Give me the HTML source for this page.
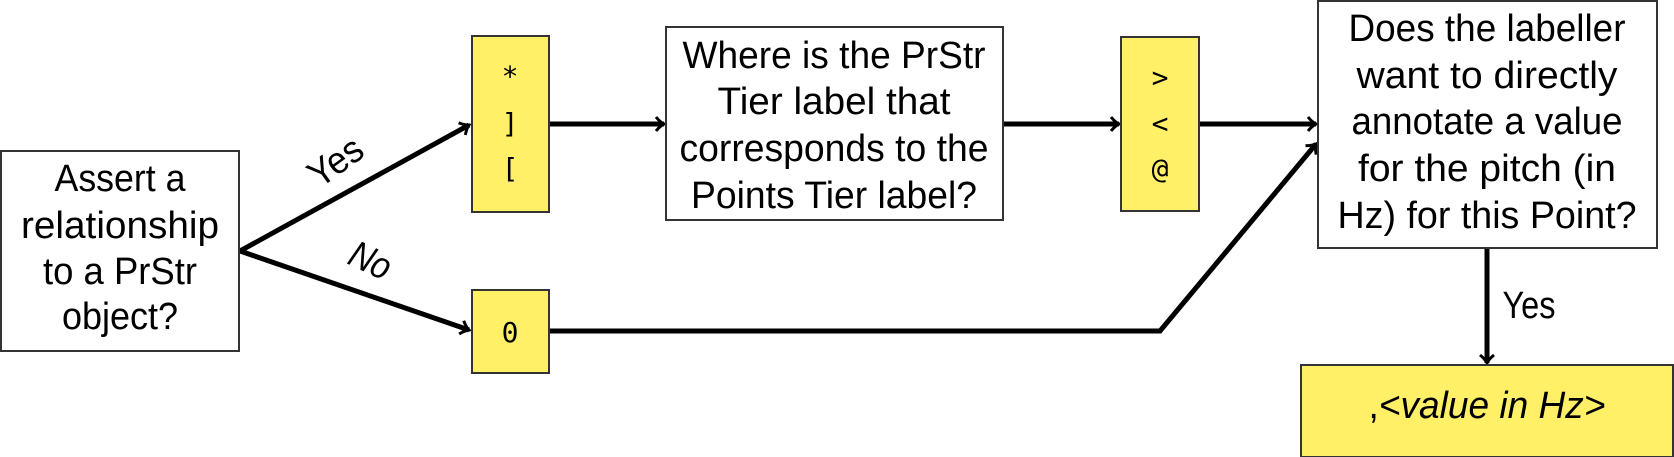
<!DOCTYPE html>
<html><head><meta charset="utf-8"><style>html,body{margin:0;padding:0;background:#fff}svg{display:block}</style></head>
<body>
<svg width="1674" height="457" viewBox="0 0 1674 457" xmlns="http://www.w3.org/2000/svg">
<defs>
<marker id="ah" markerWidth="12" markerHeight="16" refX="10" refY="8" orient="auto" markerUnits="userSpaceOnUse">
<path d="M2,1 Q6,6 10,8 Q6,10 2,15" fill="none" stroke="#000" stroke-width="3"/>
</marker>
</defs>
<g fill="none" stroke="#000" stroke-width="5">
<line x1="240" y1="251" x2="469" y2="125" marker-end="url(#ah)"/>
<line x1="240" y1="251" x2="469" y2="330" marker-end="url(#ah)"/>
<line x1="549" y1="124" x2="664" y2="124" marker-end="url(#ah)"/>
<line x1="1003" y1="124" x2="1119" y2="124" marker-end="url(#ah)"/>
<line x1="1199" y1="124" x2="1316" y2="124" marker-end="url(#ah)"/>
<polyline points="549,331 1160,331 1316,144" marker-end="url(#ah)"/>
<line x1="1487" y1="248" x2="1487" y2="363" marker-end="url(#ah)"/>
</g>
<g stroke="#333" stroke-width="2">
<rect x="1" y="151" width="238" height="200" fill="#fff"/>
<rect x="666" y="27" width="337" height="193" fill="#fff"/>
<rect x="1318" y="1" width="339" height="247" fill="#fff"/>
<rect x="472" y="36" width="77" height="176" fill="#FFF068"/>
<rect x="472" y="290" width="77" height="83" fill="#FFF068"/>
<rect x="1121" y="37" width="78" height="174" fill="#FFF068"/>
<rect x="1301" y="365" width="372" height="92" fill="#FFF068"/>
</g>
<g font-family="'Liberation Sans Narrow','Liberation Sans',sans-serif" font-size="38" fill="#000" text-anchor="middle">
<text x="120" y="191" textLength="131" lengthAdjust="spacingAndGlyphs">Assert a</text>
<text x="120" y="238" textLength="198" lengthAdjust="spacingAndGlyphs">relationship</text>
<text x="120" y="284" textLength="154" lengthAdjust="spacingAndGlyphs">to a PrStr</text>
<text x="120" y="329" textLength="116" lengthAdjust="spacingAndGlyphs">object?</text>
<text x="834" y="68" textLength="303" lengthAdjust="spacingAndGlyphs">Where is the PrStr</text>
<text x="834" y="114" textLength="233" lengthAdjust="spacingAndGlyphs">Tier label that</text>
<text x="834" y="161" textLength="309" lengthAdjust="spacingAndGlyphs">corresponds to the</text>
<text x="834" y="208" textLength="286" lengthAdjust="spacingAndGlyphs">Points Tier label?</text>
<text x="1487" y="41" textLength="277" lengthAdjust="spacingAndGlyphs">Does the labeller</text>
<text x="1487" y="88" textLength="261" lengthAdjust="spacingAndGlyphs">want to directly</text>
<text x="1487" y="134" textLength="271" lengthAdjust="spacingAndGlyphs">annotate a value</text>
<text x="1487" y="181" textLength="258" lengthAdjust="spacingAndGlyphs">for the pitch (in</text>
<text x="1487" y="228" textLength="299" lengthAdjust="spacingAndGlyphs">Hz) for this Point?</text>
<text x="1529" y="318" textLength="53" lengthAdjust="spacingAndGlyphs">Yes</text>
<text x="1487" y="418" textLength="237" lengthAdjust="spacingAndGlyphs">,<tspan font-style="italic">&lt;value in Hz&gt;</tspan></text>
<text transform="translate(343,172) rotate(-36)" x="0" y="0" textLength="58" lengthAdjust="spacingAndGlyphs">Yes</text>
<text transform="translate(365,272) rotate(25)" x="0" y="0" font-style="italic" textLength="42" lengthAdjust="spacingAndGlyphs">No</text>
</g>
<g font-family="'DejaVu Sans Mono','Liberation Mono',monospace" font-size="28" fill="#000" text-anchor="middle">
<text x="510" y="86">*</text>
<text x="510" y="133">]</text>
<text x="510" y="178">[</text>
<text x="510" y="342">0</text>
<text x="1160" y="87">&gt;</text>
<text x="1160" y="133">&lt;</text>
<text x="1160" y="178">@</text>
</g>
</svg>
</body></html>
